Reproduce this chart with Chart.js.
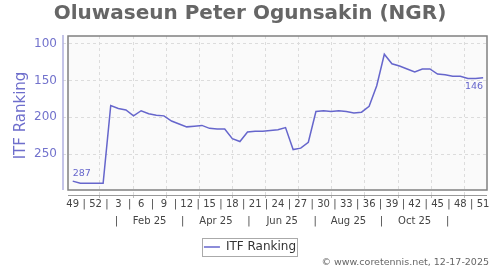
<!DOCTYPE html>
<html>
<head>
<meta charset="utf-8">
<title>ITF Ranking</title>
<script src="https://cdn.jsdelivr.net/npm/chart.js@4.4.1/dist/chart.umd.min.js"></script>
<style>
  html, body { margin: 0; padding: 0; background: #fff; }
</style>
</head>
<body>
<canvas id="rankChart" width="500" height="270"></canvas>
<script>
// ISO week of each ranking entry (week 49 of 2024 .. week 51 of 2025)
const weekNumbers = [49, 50, 51, 52, 1, 2, 3, 4, 5, 6, 7, 8, 9, 10, 11, 12, 13, 14, 15, 16,
    17, 18, 19, 20, 21, 22, 23, 24, 25, 26, 27, 28, 29, 30, 31, 32, 33, 34, 35, 36,
    37, 38, 39, 40, 41, 42, 43, 44, 45, 46, 47, 48, 49, 50, 51];

// ITF ranking, one value per week
const rankings = [287, 290, 290, 290, 290, 184, 188, 190, 198, 191, 195, 197, 198, 205, 209,
    213, 212, 211, 215, 216, 216, 229, 233, 220, 219, 219, 218, 217, 214, 244, 242, 234,
    192, 191, 192, 191, 192, 194, 193, 185, 157, 114, 127, 130, 134, 138, 134, 134, 141,
    142, 144, 144, 147, 147, 146];

// second row of the x axis, one label every two months
const monthLabels = ['Feb 25', 'Apr 25', 'Jun 25', 'Aug 25', 'Oct 25'];
const yTicks = [100, 150, 200, 250];

const LINE_COLOR = '#6666cc';
const FONT = '"DejaVu Sans", Verdana, sans-serif';
const GAP = 5;   // space between the axis lines and the plot box

// visible ranges of the axes
const WEEK_MIN = -1.28, WEEK_MAX = 54.51;
const MONTH_MIN = -0.117, MONTH_MAX = 12.685;
const RANK_MIN = 89.1, RANK_MAX = 305.9;

// Plot box, axis lines, legend frame, footer
const plotFrame = {
    id: 'plotFrame',
    beforeDraw(chart) {
        const { ctx, chartArea: a } = chart;
        ctx.save();
        ctx.fillStyle = '#fafafa';
        ctx.fillRect(a.left + GAP, a.top, a.right - a.left - GAP, a.bottom - GAP - a.top);
        ctx.restore();
    },
    afterDraw(chart) {
        const { ctx, chartArea: a } = chart;
        ctx.save();
        // plot box
        ctx.strokeStyle = '#808080';
        ctx.lineWidth = 1.5;
        ctx.strokeRect(a.left + GAP, a.top, a.right - a.left - GAP, a.bottom - GAP - a.top);
        // y axis line
        ctx.strokeStyle = '#b0b0e0';
        ctx.lineWidth = 1.5;
        ctx.beginPath();
        ctx.moveTo(a.left, a.top - 1);
        ctx.lineTo(a.left, a.bottom - GAP);
        ctx.stroke();
        // x axis line
        ctx.strokeStyle = '#999';
        ctx.lineWidth = 1;
        ctx.beginPath();
        ctx.moveTo(a.left + GAP, a.bottom + 0.5);
        ctx.lineTo(a.right, a.bottom + 0.5);
        ctx.stroke();
        // legend frame
        const hb = chart.legend.legendHitBoxes[0];
        if (hb) {
            ctx.strokeStyle = '#aaa';
            ctx.lineWidth = 1;
            ctx.strokeRect(Math.round(hb.left) - 1.5, Math.round(hb.top) - 2.5,
                Math.round(hb.width) + 3, hb.height + 6);
        }
        // footer
        ctx.fillStyle = '#666';
        ctx.font = '9.5px ' + FONT;
        ctx.textAlign = 'right';
        ctx.textBaseline = 'middle';
        ctx.fillText('© www.coretennis.net, 12-17-2025', 489, 263);
        ctx.restore();
    }
};

// first and last ranking written next to the line
const endLabels = {
    id: 'endLabels',
    afterDatasetsDraw(chart) {
        const pts = chart.getDatasetMeta(0).data;
        const first = pts[0];
        const last = pts[pts.length - 1];
        const ctx = chart.ctx;
        ctx.save();
        ctx.font = '9.5px ' + FONT;
        ctx.fillStyle = LINE_COLOR;
        ctx.textAlign = 'left';
        ctx.textBaseline = 'bottom';
        ctx.fillText(String(rankings[0]), first.x, first.y - 3);
        ctx.textAlign = 'right';
        ctx.textBaseline = 'top';
        ctx.fillText(String(rankings[rankings.length - 1]), last.x, last.y + 4);
        ctx.restore();
    }
};

new Chart(document.getElementById('rankChart'), {
    type: 'line',
    data: {
        datasets: [{
            label: 'ITF Ranking',
            data: rankings.map((v, i) => ({ x: i, y: v })),
            borderColor: LINE_COLOR,
            backgroundColor: LINE_COLOR,
            borderWidth: 1.5,
            pointRadius: 0,
            tension: 0,
            fill: false,
            xAxisID: 'x',
            yAxisID: 'y'
        }]
    },
    options: {
        responsive: false,
        animation: false,
        devicePixelRatio: 1,
        layout: { padding: { bottom: 7 } },
        plugins: {
            title: {
                display: true,
                text: 'Oluwaseun Peter Ogunsakin (NGR)',
                color: '#666',
                font: { family: FONT, size: 20, weight: 'bold', lineHeight: 1.2 },
                padding: { top: 2, bottom: 10 }
            },
            legend: {
                position: 'bottom',
                labels: {
                    color: '#333',
                    font: { family: FONT, size: 12 },
                    usePointStyle: true,
                    pointStyle: 'line',
                    pointStyleWidth: 16,
                    padding: 10
                }
            },
            tooltip: { enabled: false }
        },
        scales: {
            y: {
                type: 'linear',
                position: 'left',
                reverse: true,
                min: RANK_MIN,
                max: RANK_MAX,
                afterBuildTicks: s => { s.ticks = yTicks.map(v => ({ value: v })); },
                afterFit: s => { s.width = 63; },
                ticks: {
                    color: '#7272cc',
                    font: { family: FONT, size: 12 },
                    padding: 6
                },
                grid: { color: '#dcdcdc', drawTicks: false, lineWidth: 1 },
                border: { display: false, dash: [3, 3] },
                title: {
                    display: true,
                    text: 'ITF Ranking',
                    color: '#6e6ecc',
                    font: { family: FONT, size: 15, lineHeight: 1.2 },
                    padding: { top: 12, bottom: 0 }
                }
            },
            yr: {
                type: 'linear',
                position: 'right',
                display: true,
                afterFit: s => { s.width = 13; },
                ticks: { display: false },
                grid: { display: false, drawTicks: false },
                border: { display: false }
            },
            // monthly grid lines with small tick marks under the axis line
            xg: {
                type: 'linear',
                position: 'bottom',
                weight: 0,
                min: MONTH_MIN,
                max: MONTH_MAX,
                afterBuildTicks: s => {
                    const t = [];
                    for (let m = 1; m <= 12; m++) t.push({ value: m });
                    s.ticks = t;
                },
                afterFit: s => { s.height = 2; },
                ticks: { display: false },
                grid: {
                    color: '#dcdcdc',
                    drawTicks: true,
                    tickLength: 3,
                    tickColor: '#bbb',
                    tickBorderDash: [],
                    lineWidth: 1
                },
                border: { display: false, dash: [3, 3] }
            },
            // week numbers
            x: {
                type: 'linear',
                position: 'bottom',
                weight: 1,
                min: WEEK_MIN,
                max: WEEK_MAX,
                afterBuildTicks: s => {
                    const t = [];
                    for (let v = 0; v <= weekNumbers.length - 1; v += 1.5) t.push({ value: v });
                    s.ticks = t;
                },
                afterFit: s => { s.height = 17; },
                ticks: {
                    autoSkip: false,
                    maxRotation: 0,
                    color: '#444',
                    font: { family: FONT, size: 10 },
                    padding: 1,
                    callback: v => Number.isInteger(v / 3) ? String(weekNumbers[v]) : '|'
                },
                grid: { display: false, drawTicks: false },
                border: { display: false }
            },
            // months
            xm: {
                type: 'linear',
                position: 'bottom',
                weight: 2,
                min: MONTH_MIN,
                max: MONTH_MAX,
                afterBuildTicks: s => {
                    const t = [];
                    for (let m = 1.5; m <= 11.5; m += 1) t.push({ value: m });
                    s.ticks = t;
                },
                afterFit: s => { s.height = 17; },
                ticks: {
                    autoSkip: false,
                    maxRotation: 0,
                    color: '#444',
                    font: { family: FONT, size: 10 },
                    padding: 1,
                    callback: v => {
                        const k = Math.round(v - 0.5);
                        return k % 2 === 0 ? monthLabels[k / 2 - 1] : '|';
                    }
                },
                grid: { display: false, drawTicks: false },
                border: { display: false }
            }
        }
    },
    plugins: [plotFrame, endLabels]
});
</script>
</body>
</html>
